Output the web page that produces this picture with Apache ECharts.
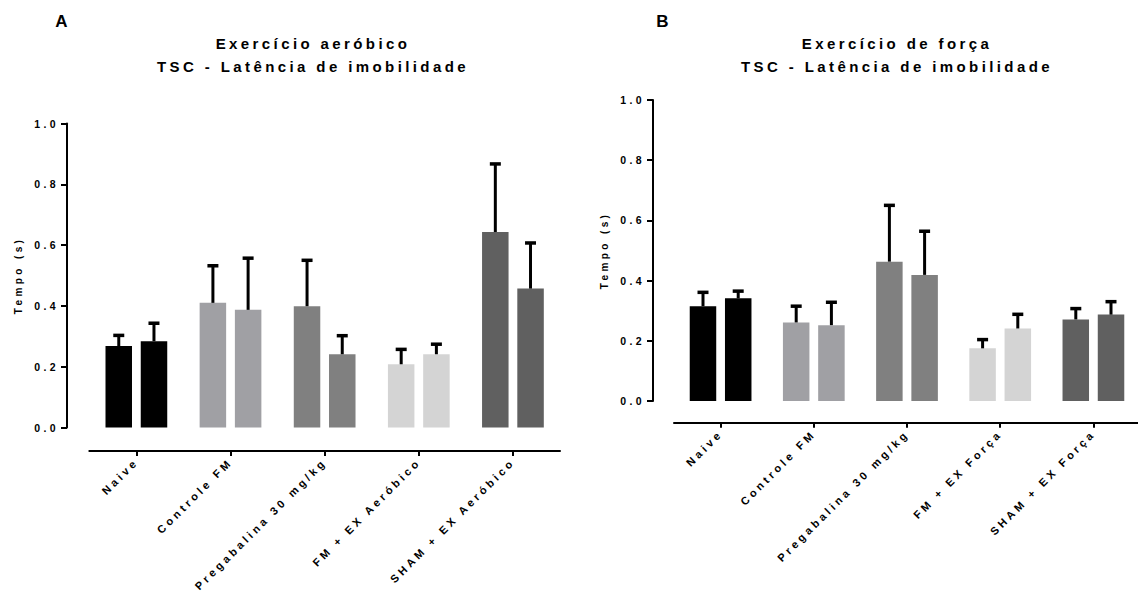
<!DOCTYPE html>
<html>
<head>
<meta charset="utf-8">
<style>
  html, body { margin: 0; padding: 0; background: #ffffff; }
  #chart { width: 1138px; height: 592px; }
  /* wide tracking on every label, Prism-style */
  #chart text { letter-spacing: 3.4px; }
</style>
<script src="https://cdn.jsdelivr.net/npm/echarts@6/dist/echarts.min.js"></script>
</head>
<body>
<div id="chart"></div>
<script>
// Groups on the x axis
const categoriasA = ['Naive', 'Controle FM', 'Pregabalina 30 mg/kg', 'FM + EX Aeróbico', 'SHAM + EX Aeróbico'];
const categoriasB = ['Naive', 'Controle FM', 'Pregabalina 30 mg/kg', 'FM + EX Força', 'SHAM + EX Força'];

// Panel A – aerobic exercise: mean latency (s) and upper error, two bars per group
const mediaA1 = [0.268, 0.410, 0.399, 0.208, 0.643];
const erroA1  = [0.035, 0.122, 0.151, 0.049, 0.224];
const mediaA2 = [0.284, 0.387, 0.241, 0.241, 0.457];
const erroA2  = [0.059, 0.170, 0.061, 0.033, 0.150];

// Panel B – strength exercise
const mediaB1 = [0.315, 0.261, 0.463, 0.175, 0.271];
const erroB1  = [0.046, 0.054, 0.187, 0.029, 0.036];
const mediaB2 = [0.341, 0.252, 0.419, 0.241, 0.287];
const erroB2  = [0.024, 0.076, 0.145, 0.047, 0.043];

// Y ticks
const ticksY = { min: 0, max: 1, interval: 0.2 };

// One grey tone per group
const cores = ['#000000', '#a0a0a4', '#808080', '#d4d4d4', '#606060'];

const FONT = 'Liberation Sans, Arial, sans-serif';
const BAR_W = 26.5;
const BAR_GAP = '33%';
const SHIFT = 17.6; // half of (bar width + gap), from group centre to each bar centre

function barData(values) {
  return values.map((v, i) => ({ value: v, itemStyle: { color: cores[i] } }));
}

function errorData(values, errs) {
  return values.map((v, i) => [i, v, errs[i]]);
}

function errorSeries(gridIdx, values, errs, side) {
  return {
    type: 'custom',
    xAxisIndex: gridIdx,
    yAxisIndex: gridIdx,
    z: 5,
    silent: true,
    data: errorData(values, errs),
    encode: { x: 0, y: 1 },
    renderItem: function (params, api) {
      const i = api.value(0);
      const m = api.value(1);
      const e = api.value(2);
      const p0 = api.coord([i, m]);
      const p1 = api.coord([i, m + e]);
      const x = p0[0] + side * SHIFT;
      return {
        type: 'group',
        children: [
          { type: 'line', shape: { x1: x, y1: p0[1], x2: x, y2: p1[1] },
            style: { stroke: '#000', lineWidth: 3 } },
          { type: 'line', shape: { x1: x - 5.5, y1: p1[1], x2: x + 5.5, y2: p1[1] },
            style: { stroke: '#000', lineWidth: 3.5 } }
        ]
      };
    }
  };
}

function xAxisFor(gridIdx, cats, offset) {
  return {
    type: 'category',
    gridIndex: gridIdx,
    data: cats,
    offset: offset,
    axisLine: { show: true, onZero: false, lineStyle: { color: '#000', width: 2 } },
    axisTick: { show: true, alignWithLabel: true, length: 5, lineStyle: { color: '#000', width: 2 } },
    axisLabel: {
      interval: 0, rotate: 45, margin: 9,
      color: '#000', fontFamily: FONT, fontWeight: 'bold', fontSize: 11
    },
    splitLine: { show: false }
  };
}

function yAxisFor(gridIdx, offset) {
  return {
    type: 'value',
    gridIndex: gridIdx,
    min: ticksY.min, max: ticksY.max, interval: ticksY.interval,
    offset: offset,
    name: 'Tempo (s)',
    nameLocation: 'middle',
    nameGap: 44,
    nameTextStyle: { color: '#000', fontFamily: FONT, fontWeight: 'bold', fontSize: 10 },
    axisLine: { show: true, onZero: false, lineStyle: { color: '#000', width: 2 } },
    axisTick: { show: true, length: 6, lineStyle: { color: '#000', width: 2 } },
    axisLabel: {
      margin: 8, color: '#000', fontFamily: FONT, fontWeight: 'bold', fontSize: 10.5,
      formatter: v => v.toFixed(1)
    },
    splitLine: { show: false }
  };
}

const titleStyle = { color: '#000', fontFamily: FONT, fontWeight: 'bold', fontSize: 15, lineHeight: 23 };
const letterStyle = { color: '#000', fontFamily: FONT, fontWeight: 'bold', fontSize: 17 };

const option = {
  animation: false,
  backgroundColor: '#ffffff',
  title: [
    { text: 'A', left: 58, top: 8, textAlign: 'center', textStyle: letterStyle },
    { text: 'Exercício aeróbico\nTSC - Latência de imobilidade', left: 308, top: 27,
      textAlign: 'center', textStyle: titleStyle },
    { text: 'B', left: 659, top: 8, textAlign: 'center', textStyle: letterStyle },
    { text: 'Exercício de força\nTSC - Latência de imobilidade', left: 892, top: 27,
      textAlign: 'center', textStyle: titleStyle }
  ],
  grid: [
    { left: 89.3, top: 123.5, width: 470.7, height: 304, outerBoundsMode: 'none', containLabel: false },
    { left: 674, top: 100, width: 466, height: 301, outerBoundsMode: 'none', containLabel: false }
  ],
  xAxis: [
    xAxisFor(0, categoriasA, 23.5),
    xAxisFor(1, categoriasB, 21.7)
  ],
  yAxis: [
    yAxisFor(0, 22.3),
    yAxisFor(1, 21)
  ],
  series: [
    { type: 'bar', xAxisIndex: 0, yAxisIndex: 0, barWidth: BAR_W, barGap: BAR_GAP, data: barData(mediaA1) },
    { type: 'bar', xAxisIndex: 0, yAxisIndex: 0, barWidth: BAR_W, barGap: BAR_GAP, data: barData(mediaA2) },
    { type: 'bar', xAxisIndex: 1, yAxisIndex: 1, barWidth: BAR_W, barGap: BAR_GAP, data: barData(mediaB1) },
    { type: 'bar', xAxisIndex: 1, yAxisIndex: 1, barWidth: BAR_W, barGap: BAR_GAP, data: barData(mediaB2) },
    errorSeries(0, mediaA1, erroA1, -1),
    errorSeries(0, mediaA2, erroA2, 1),
    errorSeries(1, mediaB1, erroB1, -1),
    errorSeries(1, mediaB2, erroB2, 1)
  ]
};

const chart = echarts.init(document.getElementById('chart'), null, { renderer: 'svg' });
chart.setOption(option);
</script>
</body>
</html>
